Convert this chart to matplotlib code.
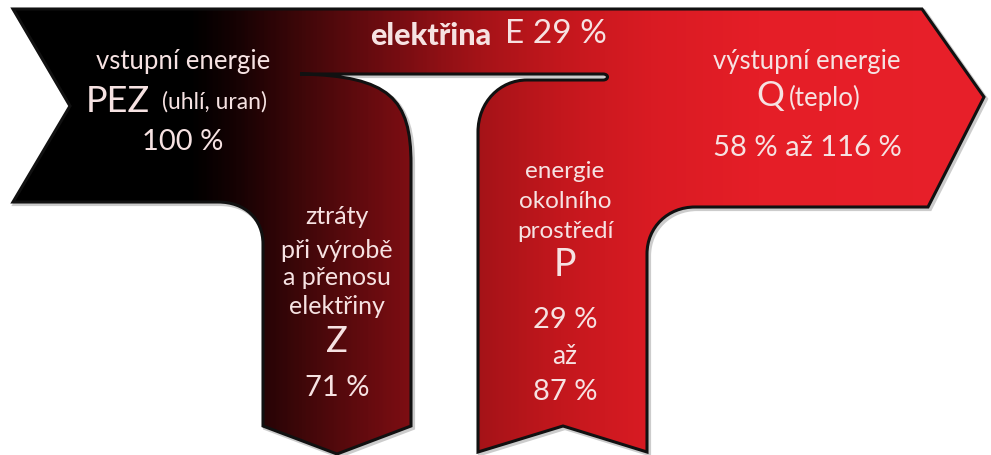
import numpy as np
import matplotlib.pyplot as plt
from matplotlib.path import Path
from matplotlib.patches import PathPatch
from matplotlib.colors import LinearSegmentedColormap
from matplotlib.transforms import Affine2D

plt.rcParams['font.family'] = ['Lato', 'DejaVu Sans']

# Labels / values of the flows
pez_label = ['vstupní energie', 'PEZ', '(uhlí, uran)', '100 %']
e_label = ['elektřina', 'E 29 %']
q_label = ['výstupní energie', 'Q', '(teplo)', '58 % až 116 %']
z_label = ['ztráty', 'při výrobě', 'a přenosu', 'elektřiny', 'Z', '71 %']
p_label = ['energie', 'okolního', 'prostředí', 'P', '29 %', 'až', '87 %']

W, H = 991, 456

fig = plt.figure(figsize=(W / 100, H / 100), dpi=100)
ax = fig.add_axes([0, 0, 1, 1])

# outline of the whole flow (image pixel coords, y downwards)
M, L, C, Z = Path.MOVETO, Path.LINETO, Path.CURVE4, Path.CLOSEPOLY
shape = [
    ((13, 10), M), ((922, 10), L), ((984, 98), L), ((928, 208), L),
    ((695, 208), L),
    ((668, 208), C), ((647, 228), C), ((647, 255), C),
    ((647, 453), L), ((563, 427), L), ((478, 453), L),
    ((478, 133), L),
    ((478, 103), C), ((500, 81), C), ((527, 81), C),
    ((603, 81), L),
    ((609, 81), C), ((609, 75), C), ((603, 75), C),
    ((300, 75), L),
    ((390, 77), C), ((411, 100), C), ((411, 165), C),
    ((411, 427), L), ((337, 455), L), ((263, 427), L),
    ((263, 245), L),
    ((263, 220), C), ((245, 203), C), ((218, 203), C),
    ((13, 203), L), ((70, 107), L), ((13, 10), Z),
]
verts = [v for v, c in shape]
codes = [c for v, c in shape]
path = Path(verts, codes)

# soft shadow
shadow = PathPatch(path, facecolor='none', edgecolor='#9a9a9a', lw=3, alpha=0.5,
                   transform=Affine2D().translate(2, 2) + ax.transData, zorder=1)
ax.add_patch(shadow)

outline = PathPatch(path, facecolor='none', edgecolor='#111111', lw=2.2, zorder=3)
ax.add_patch(outline)

stops = [(0, '#000000'), (190, '#000000'), (235, '#160203'), (300, '#3e0709'),
         (400, '#780d12'), (480, '#a51318'), (560, '#c3171d'), (650, '#d91b23'),
         (760, '#e51e27'), (991, '#e8202a')]
cmap = LinearSegmentedColormap.from_list('flow', [(x / W, c) for x, c in stops])
grad = np.linspace(0, 1, 600)[None, :]
im = ax.imshow(grad, extent=(0, W, H, 0), aspect='auto', cmap=cmap, zorder=2,
               interpolation='bilinear')
fill = PathPatch(path, facecolor='none', edgecolor='none')
ax.add_patch(fill)
im.set_clip_path(fill)

ax.set_xlim(0, W)
ax.set_ylim(H, 0)
ax.axis('off')

tc = '#f6e2e2'
kw = dict(color=tc, ha='center', va='center', zorder=4)

# input
ax.text(183, 62, pez_label[0], fontsize=18.5, **kw)
ax.text(118, 102, pez_label[1], fontsize=26, **kw)
ax.text(215, 102, pez_label[2], fontsize=16.5, **kw)
ax.text(183, 142, pez_label[3], fontsize=21, **kw)

# electricity
ax.text(431, 36, e_label[0], fontsize=22, fontweight='black', **kw)
ax.text(556, 34, e_label[1], fontsize=24, **kw)

# output heat
ax.text(807, 62, q_label[0], fontsize=18.5, **kw)
ax.text(770, 96, q_label[1], fontsize=25, **kw)
ax.text(825, 98, q_label[2], fontsize=18.5, **kw)
ax.text(807, 148, q_label[3], fontsize=21, **kw)

# losses column
zy = [217, 251, 278, 307, 342, 388]
zs = [18, 18, 18, 18, 26, 21]
for t, y, s in zip(z_label, zy, zs):
    ax.text(337, y, t, fontsize=s, **kw)

# ambient energy column
py = [172, 202, 232, 265, 320, 357, 392]
ps = [17.5, 17.5, 17.5, 27, 21, 19, 21]
for t, y, s in zip(p_label, py, ps):
    ax.text(565, y, t, fontsize=s, **kw)

fig.savefig('out.png', dpi=100, facecolor='white')
